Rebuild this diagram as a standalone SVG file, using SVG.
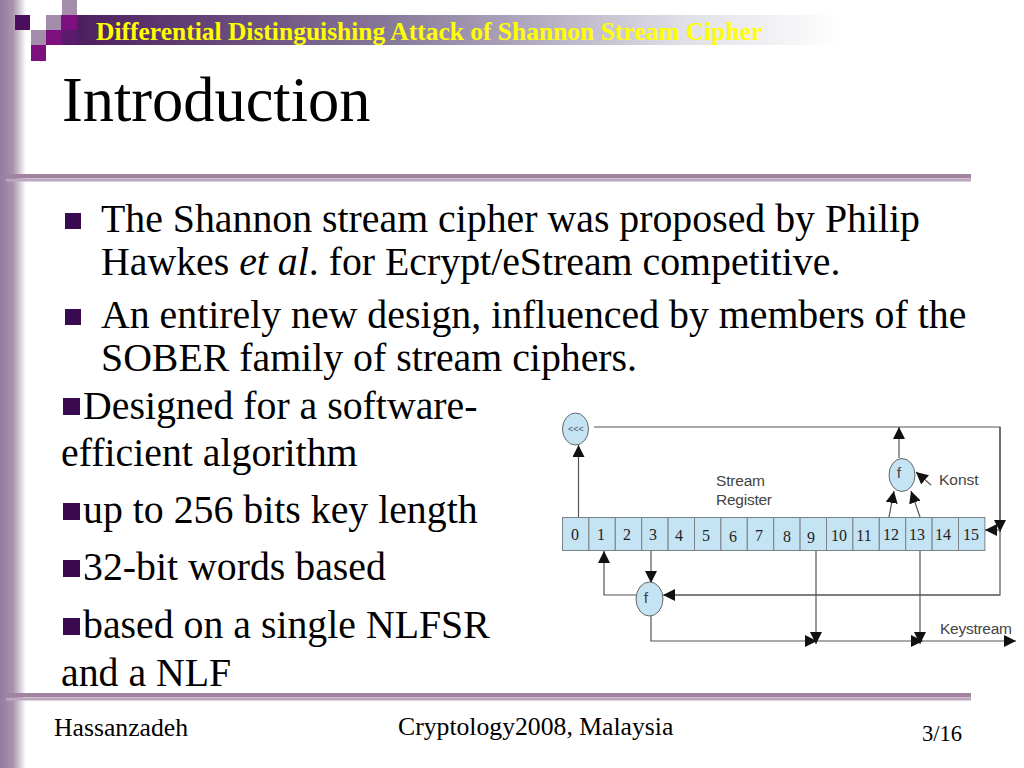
<svg xmlns="http://www.w3.org/2000/svg" width="1024" height="768" viewBox="0 0 1024 768">
<style>
text{font-family:"Liberation Serif",serif;fill:#000}
.body{font-size:39.8px}
.foot{font-size:25.7px}
.lbl{font-family:"Liberation Sans",sans-serif;fill:#444;font-size:15.5px}
.num{font-family:"Liberation Serif",serif;fill:#222;font-size:16px;text-anchor:middle}
.cell{fill:#c4e4f4;stroke:#7a8088;stroke-width:1}
.node{fill:#c4e4f4;stroke:#666;stroke-width:1}
.ln{fill:none;stroke:#555;stroke-width:1.2}
.bul{fill:#3a0a50}
</style>
<defs>
<linearGradient id="side" x1="0" x2="1" y1="0" y2="0"><stop offset="0" stop-color="#957a9e"/><stop offset="0.5" stop-color="#a892ae"/><stop offset="1" stop-color="#fff"/></linearGradient>
<linearGradient id="bar" x1="0" x2="1" y1="0" y2="0"><stop offset="0" stop-color="#4a1a5c"/><stop offset="0.42" stop-color="#87799a"/><stop offset="0.8" stop-color="#e0e0e8"/><stop offset="1" stop-color="#fff"/></linearGradient>
<marker id="arr" markerUnits="userSpaceOnUse" markerWidth="14" markerHeight="14" refX="12" refY="6" orient="auto"><path d="M0 0L12 6L0 12z" fill="#111"/></marker>
</defs>
<rect x="0" y="0" width="26" height="768" fill="url(#side)"/>
<rect x="62" y="15" width="780" height="30" fill="url(#bar)"/>
<g id="squares">
<rect x="15" y="15" width="15" height="15" fill="#4a0e5c"/>
<rect x="46" y="15" width="15" height="15" fill="#a48cab"/>
<rect x="61" y="15" width="16" height="15" fill="#7e0f7e"/>
<rect x="62" y="0" width="15" height="15" fill="#a48cab"/>
<rect x="31" y="30" width="15" height="15" fill="#a48cab"/>
<rect x="46" y="30" width="16" height="15" fill="#7e0f7e"/>
<rect x="62" y="30" width="15" height="15" fill="#5c1a6c"/>
<rect x="31" y="45" width="15" height="16" fill="#7e0f7e"/>
</g>
<text x="96" y="40" font-size="25.5" font-weight="bold" style="fill:#ffff00">Differential Distinguishing Attack of Shannon Stream Cipher</text>
<text x="62" y="121" font-size="62.4">Introduction</text>
<g id="rules">
<rect x="6" y="174" width="965" height="4.5" fill="#a0849f"/>
<rect x="6" y="179" width="965" height="2.5" fill="#bca6c0"/>
<rect x="6" y="693" width="965" height="4.5" fill="#a0849f"/>
<rect x="6" y="698" width="965" height="2.5" fill="#bca6c0"/>
</g>
<g id="bullets">
<rect class="bul" x="65" y="213" width="16" height="16"/>
<rect class="bul" x="65" y="309" width="16" height="16"/>
<rect class="bul" x="63" y="398" width="17" height="17"/>
<rect class="bul" x="63" y="503" width="17" height="17"/>
<rect class="bul" x="63" y="560" width="17" height="17"/>
<rect class="bul" x="63" y="618" width="17" height="17"/>
</g>
<g id="body" class="body">
<text class="body" x="101" y="232">The Shannon stream cipher was proposed by Philip</text>
<text class="body" x="101" y="275">Hawkes <tspan font-style="italic">et al</tspan>. for Ecrypt/eStream competitive.</text>
<text class="body" x="101" y="328">An entirely new design, influenced by members of the</text>
<text class="body" x="101" y="371">SOBER family of stream ciphers.</text>
<text class="body" x="83" y="419">Designed for a software-</text>
<text class="body" x="61" y="466">efficient algorithm</text>
<text class="body" x="83" y="523">up to 256 bits key length</text>
<text class="body" x="83" y="580">32-bit words based</text>
<text class="body" x="83" y="638">based on a single NLFSR</text>
<text class="body" x="61" y="686">and a NLF</text>
</g>
<text class="foot" x="54" y="736">Hassanzadeh</text>
<text class="foot" x="398" y="735">Cryptology2008, Malaysia</text>
<text class="foot" x="922" y="741" style="font-size:22.6px">3/16</text>
<g id="register">
<rect class="cell" x="562.5" y="517.5" width="26.4" height="33"/><text class="num" x="575" y="540">0</text>
<rect class="cell" x="588.9" y="517.5" width="26.4" height="33"/><text class="num" x="601" y="540">1</text>
<rect class="cell" x="615.3" y="517.5" width="26.4" height="33"/><text class="num" x="627" y="540">2</text>
<rect class="cell" x="641.7" y="517.5" width="26.4" height="33"/><text class="num" x="653" y="540">3</text>
<rect class="cell" x="668.1" y="517.5" width="26.4" height="33"/><text class="num" x="679" y="541">4</text>
<rect class="cell" x="694.5" y="517.5" width="26.4" height="33"/><text class="num" x="706" y="541">5</text>
<rect class="cell" x="720.9" y="517.5" width="26.4" height="33"/><text class="num" x="733" y="542">6</text>
<rect class="cell" x="747.3" y="517.5" width="26.4" height="33"/><text class="num" x="759" y="541">7</text>
<rect class="cell" x="773.7" y="517.5" width="26.4" height="33"/><text class="num" x="787" y="542">8</text>
<rect class="cell" x="800.1" y="517.5" width="26.4" height="33"/><text class="num" x="811" y="543">9</text>
<rect class="cell" x="826.5" y="517.5" width="26.4" height="33"/><text class="num" x="839" y="541">10</text>
<rect class="cell" x="852.9" y="517.5" width="26.4" height="33"/><text class="num" x="864" y="541">11</text>
<rect class="cell" x="879.3" y="517.5" width="26.4" height="33"/><text class="num" x="891" y="540">12</text>
<rect class="cell" x="905.7" y="517.5" width="26.4" height="33"/><text class="num" x="917" y="540">13</text>
<rect class="cell" x="932.1" y="517.5" width="26.4" height="33"/><text class="num" x="943" y="540">14</text>
<rect class="cell" x="958.5" y="517.5" width="26.4" height="33"/><text class="num" x="971" y="540">15</text>
</g>
<g id="connectors">
<path class="ln" marker-end="url(#arr)" d="M578.5 517V445"/>
<path class="ln" d="M594 427H1000V595H664"/>
<path class="ln" marker-end="url(#arr)" d="M1000 427V532"/>
<path class="ln" marker-end="url(#arr)" d="M1000 595H663"/>
<path class="ln" marker-end="url(#arr)" d="M1000 530H985"/>
<path class="ln" marker-end="url(#arr)" d="M899 458V427"/>
<path class="ln" marker-end="url(#arr)" d="M889 517L894 491"/>
<path class="ln" marker-end="url(#arr)" d="M920 517L911 491"/>
<path class="ln" marker-end="url(#arr)" d="M931 485L916 472"/>
<path class="ln" marker-end="url(#arr)" d="M651 551V583"/>
<path class="ln" marker-end="url(#arr)" d="M636 595H604V551"/>
<path class="ln" marker-end="url(#arr)" d="M651 616V641H817"/>
<path class="ln" marker-end="url(#arr)" d="M817 641H923"/>
<path class="ln" marker-end="url(#arr)" d="M923 641H1016"/>
<path class="ln" marker-end="url(#arr)" d="M816 551V644"/>
<path class="ln" marker-end="url(#arr)" d="M920 551V644"/>
</g>
<g id="rot"><ellipse class="node" cx="575.5" cy="429" rx="13" ry="16"/><text x="576" y="432" font-size="9" text-anchor="middle" style="font-family:'Liberation Sans',sans-serif;fill:#555">&lt;&lt;&lt;</text></g>
<g id="f-top"><ellipse class="node" cx="902" cy="475" rx="13" ry="16.5"/><text class="lbl" x="899" y="478" text-anchor="middle">f</text></g>
<g id="f-bottom"><ellipse class="node" cx="649.5" cy="599" rx="13.5" ry="17"/><text class="lbl" x="646" y="603" text-anchor="middle">f</text></g>
<text class="lbl" x="716" y="486" textLength="49">Stream</text>
<text class="lbl" x="716" y="505" textLength="56">Register</text>
<text class="lbl" x="939" y="485">Konst</text>
<text class="lbl" x="940" y="634" textLength="72">Keystream</text>
</svg>
